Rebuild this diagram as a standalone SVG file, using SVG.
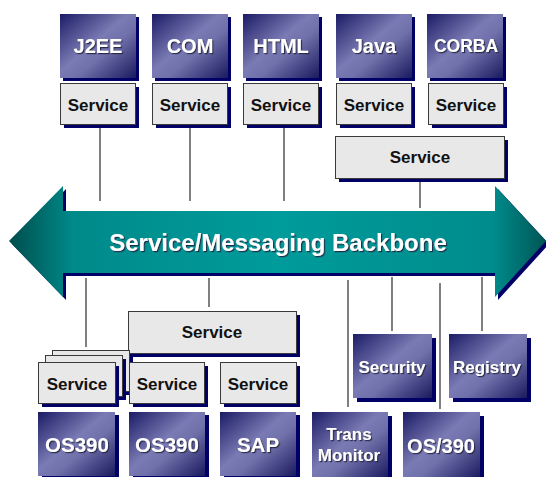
<svg xmlns="http://www.w3.org/2000/svg" width="546" height="477" viewBox="0 0 546 477">
<defs>
<linearGradient id="plat" x1="0" y1="0" x2="1" y2="1">
<stop offset="0" stop-color="#1c1c66"/>
<stop offset="0.45" stop-color="#7a7ab4"/>
<stop offset="0.6" stop-color="#7070aa"/>
<stop offset="1" stop-color="#1a1a60"/>
</linearGradient>
<linearGradient id="teal" x1="0" y1="0" x2="1" y2="0">
<stop offset="0" stop-color="#004d4d"/>
<stop offset="0.12" stop-color="#008a8a"/>
<stop offset="0.5" stop-color="#009b9b"/>
<stop offset="0.9" stop-color="#008c8c"/>
<stop offset="1" stop-color="#005555"/>
</linearGradient>
<filter id="ts" x="-10%" y="-20%" width="130%" height="150%">
<feDropShadow dx="1.2" dy="1.2" stdDeviation="0.6" flood-color="#202040" flood-opacity="0.9"/>
</filter>
</defs>
<style>
.sh{fill:#000066}
.plat{fill:url(#plat)}
.svc{fill:#e8e8e8;stroke:#3a3a3a;stroke-width:1}
.pl{font-family:"Liberation Sans",Arial,sans-serif;font-weight:bold;fill:#ffffff;text-anchor:middle;filter:url(#ts)}
.st{font-family:"Liberation Sans",Arial,sans-serif;font-weight:bold;fill:#111111;text-anchor:middle;font-size:17px}
.cn{stroke:#2a2a2a;stroke-width:1.2;fill:none}
</style>

<g id="backbone">
<path class="sh" d="M12,244 L66,189 L66,214 L498,214 L498,189 L549,244 L498,300 L498,276 L66,276 L66,300 Z"/>
<path fill="url(#teal)" d="M9,241 L63,186 L63,211 L495,211 L495,186 L546,241 L495,297 L495,273 L63,273 L63,297 Z"/>
<text class="pl" x="278" y="251" font-size="24">Service/Messaging Backbone</text>
</g>

<g id="connectors">
<line class="cn" x1="100" y1="128" x2="100" y2="201"/>
<line class="cn" x1="190" y1="128" x2="190" y2="201"/>
<line class="cn" x1="284" y1="128" x2="284" y2="201"/>
<line class="cn" x1="420" y1="182" x2="420" y2="208"/>
<line class="cn" x1="86" y1="278" x2="86" y2="347"/>
<line class="cn" x1="209" y1="278" x2="209" y2="307"/>
<line class="cn" x1="348" y1="280" x2="348" y2="407"/>
<line class="cn" x1="392" y1="277" x2="392" y2="331"/>
<line class="cn" x1="440" y1="283" x2="440" y2="409"/>
<line class="cn" x1="482" y1="277" x2="482" y2="331"/>
</g>

<g id="j2ee">
<rect class="sh" x="63" y="17" width="76" height="64"/>
<rect class="plat" x="60" y="14" width="76" height="64"/>
<text class="pl" x="98" y="53" font-size="20">J2EE</text>
</g>
<g id="com">
<rect class="sh" x="155" y="17" width="76" height="64"/>
<rect class="plat" x="152" y="14" width="76" height="64"/>
<text class="pl" x="190" y="53" font-size="20">COM</text>
</g>
<g id="html">
<rect class="sh" x="246" y="17" width="76" height="64"/>
<rect class="plat" x="243" y="14" width="76" height="64"/>
<text class="pl" x="281" y="53" font-size="20">HTML</text>
</g>
<g id="java">
<rect class="sh" x="339" y="17" width="76" height="64"/>
<rect class="plat" x="336" y="14" width="76" height="64"/>
<text class="pl" x="374" y="53" font-size="20">Java</text>
</g>
<g id="corba">
<rect class="sh" x="430" y="17" width="76" height="64"/>
<rect class="plat" x="427" y="14" width="76" height="64"/>
<text class="pl" x="466" y="52" font-size="17.5">CORBA</text>
</g>

<g id="svc-j2ee">
<rect class="sh" x="64" y="87" width="75" height="41"/>
<rect class="svc" x="60.5" y="83.5" width="75" height="41"/>
<text class="st" x="98" y="111">Service</text>
</g>
<g id="svc-com">
<rect class="sh" x="156" y="87" width="75" height="41"/>
<rect class="svc" x="152.5" y="83.5" width="75" height="41"/>
<text class="st" x="190" y="111">Service</text>
</g>
<g id="svc-html">
<rect class="sh" x="247" y="87" width="75" height="41"/>
<rect class="svc" x="243.5" y="83.5" width="75" height="41"/>
<text class="st" x="281" y="111">Service</text>
</g>
<g id="svc-java">
<rect class="sh" x="340" y="87" width="75" height="41"/>
<rect class="svc" x="336.5" y="83.5" width="75" height="41"/>
<text class="st" x="374" y="111">Service</text>
</g>
<g id="svc-corba">
<rect class="sh" x="432" y="87" width="75" height="41"/>
<rect class="svc" x="428.5" y="83.5" width="75" height="41"/>
<text class="st" x="466" y="111">Service</text>
</g>
<g id="svc-shared-top">
<rect class="sh" x="339" y="140" width="169" height="42"/>
<rect class="svc" x="335.5" y="136.5" width="169" height="42"/>
<text class="st" x="420" y="163">Service</text>
</g>

<g id="svc-shared-bottom">
<rect class="sh" x="132" y="315" width="168" height="42"/>
<rect class="svc" x="128.5" y="311.5" width="168" height="42"/>
<text class="st" x="212" y="338">Service</text>
</g>
<g id="svc-stack">
<rect class="sh" x="56" y="354" width="77" height="41"/>
<rect class="svc" x="52.5" y="350.5" width="77" height="41"/>
<rect class="sh" x="49" y="359" width="77" height="41"/>
<rect class="svc" x="45.5" y="355.5" width="77" height="41"/>
<rect class="sh" x="42" y="366" width="77" height="41"/>
<rect class="svc" x="38.5" y="362.5" width="77" height="41"/>
<text class="st" x="77" y="390">Service</text>
</g>
<g id="svc-os390b">
<rect class="sh" x="133" y="366" width="75" height="41"/>
<rect class="svc" x="129.5" y="362.5" width="75" height="41"/>
<text class="st" x="167" y="390">Service</text>
</g>
<g id="svc-sap">
<rect class="sh" x="224" y="366" width="76" height="41"/>
<rect class="svc" x="220.5" y="362.5" width="76" height="41"/>
<text class="st" x="258" y="390">Service</text>
</g>

<g id="os390a">
<rect class="sh" x="42" y="415" width="77" height="64"/>
<rect class="plat" x="38" y="412" width="77" height="64"/>
<text class="pl" x="77" y="452" font-size="20.5">OS390</text>
</g>
<g id="os390b">
<rect class="sh" x="133" y="415" width="76" height="64"/>
<rect class="plat" x="129" y="412" width="76" height="64"/>
<text class="pl" x="167" y="452" font-size="20.5">OS390</text>
</g>
<g id="sap">
<rect class="sh" x="224" y="415" width="76" height="64"/>
<rect class="plat" x="220" y="412" width="76" height="64"/>
<text class="pl" x="258" y="452" font-size="20.5">SAP</text>
</g>

<g id="security">
<rect class="sh" x="357" y="338" width="79" height="64"/>
<rect class="plat" x="353" y="334" width="79" height="64"/>
<text class="pl" x="392" y="373" font-size="17">Security</text>
</g>
<g id="registry">
<rect class="sh" x="453" y="338" width="78" height="64"/>
<rect class="plat" x="449" y="334" width="78" height="64"/>
<text class="pl" x="487" y="373" font-size="17">Registry</text>
</g>
<g id="trans-monitor">
<rect class="sh" x="316" y="416" width="76" height="64"/>
<rect class="plat" x="312" y="412" width="76" height="66"/>
<text class="pl" x="349" y="440" font-size="17">Trans</text>
<text class="pl" x="349" y="461" font-size="17">Monitor</text>
</g>
<g id="os390c">
<rect class="sh" x="407" y="416" width="77" height="64"/>
<rect class="plat" x="403" y="412" width="77" height="66"/>
<text class="pl" x="441" y="453" font-size="20">OS/390</text>
</g>
</svg>
